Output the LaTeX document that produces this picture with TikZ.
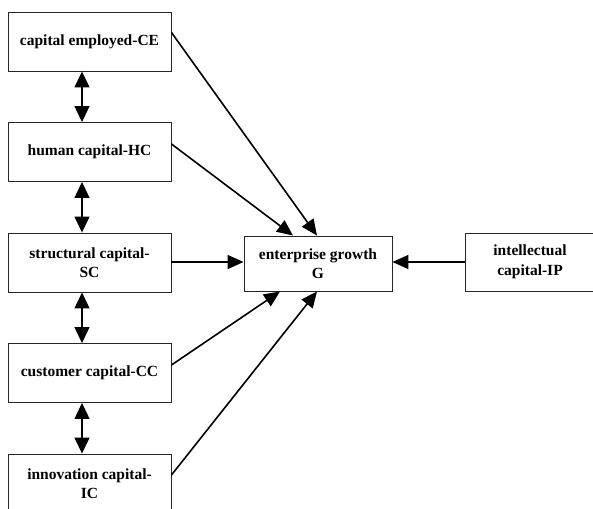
\documentclass[tikz,border=0pt]{standalone}
\usepackage{fontspec}
\setmainfont{Liberation Serif}
\usetikzlibrary{arrows.meta}
\begin{document}
\begin{tikzpicture}[x=1pt,y=-1pt,
  box/.style={draw=black!85,line width=0.9pt,align=center,inner sep=0pt,
    font=\fontsize{15.5}{19.5}\selectfont\bfseries},
  lbox/.style={box,minimum width=163pt,minimum height=59pt},
  conn/.style={line width=1.6pt,-{Triangle[length=16pt,width=14pt]}},
  dbl/.style={line width=1.3pt,{Triangle[length=16pt,width=15pt]}-{Triangle[length=16pt,width=15pt]}}]
\useasboundingbox (0,0) rectangle (593,508);
\node[lbox] (CE) at (89.5,41.5) {capital employed-CE};
\node[lbox] (HC) at (89.5,152) {human capital-HC};
\node[lbox] (SC) at (89.5,262.5) {structural capital-\\SC};
\node[lbox] (CC) at (89.5,373) {customer capital-CC};
\node[lbox] (IC) at (89.5,483.5) {innovation capital-\\IC};
\node[box,minimum width=148pt,minimum height=55pt] (G) at (318,263.5) {enterprise growth\\G};
\node[box,minimum width=135pt,minimum height=58pt,text width=135pt] (IP) at (532.5,262) {\hspace*{-5pt}intellectual\\\hspace*{-5pt}capital-IP};
\draw[dbl] ([xshift=-7.5pt]CE.south) -- ([xshift=-7.5pt]HC.north);
\draw[dbl] ([xshift=-7.5pt]HC.south) -- ([xshift=-7.5pt]SC.north);
\draw[dbl] ([xshift=-7.5pt]SC.south) -- ([xshift=-7.5pt]CC.north);
\draw[dbl] ([xshift=-7.5pt]CC.south) -- ([xshift=-7.5pt]IC.north);
\draw[conn] ([yshift=9pt]CE.east) -- ([xshift=-1pt]G.north);
\draw[conn] ([yshift=8pt]HC.east) -- ([xshift=-25pt]G.north);
\draw[conn] ([yshift=0.5pt]SC.east) -- ([yshift=0.5pt]SC.east -| G.west);
\draw[conn] ([yshift=8pt]CC.east) -- ([xshift=-38pt]G.south);
\draw[conn] ([yshift=8.5pt]IC.east) -- ([xshift=-1pt]G.south);
\draw[conn] (IP.west) -- (IP.west -| G.east);
\end{tikzpicture}
\end{document}
